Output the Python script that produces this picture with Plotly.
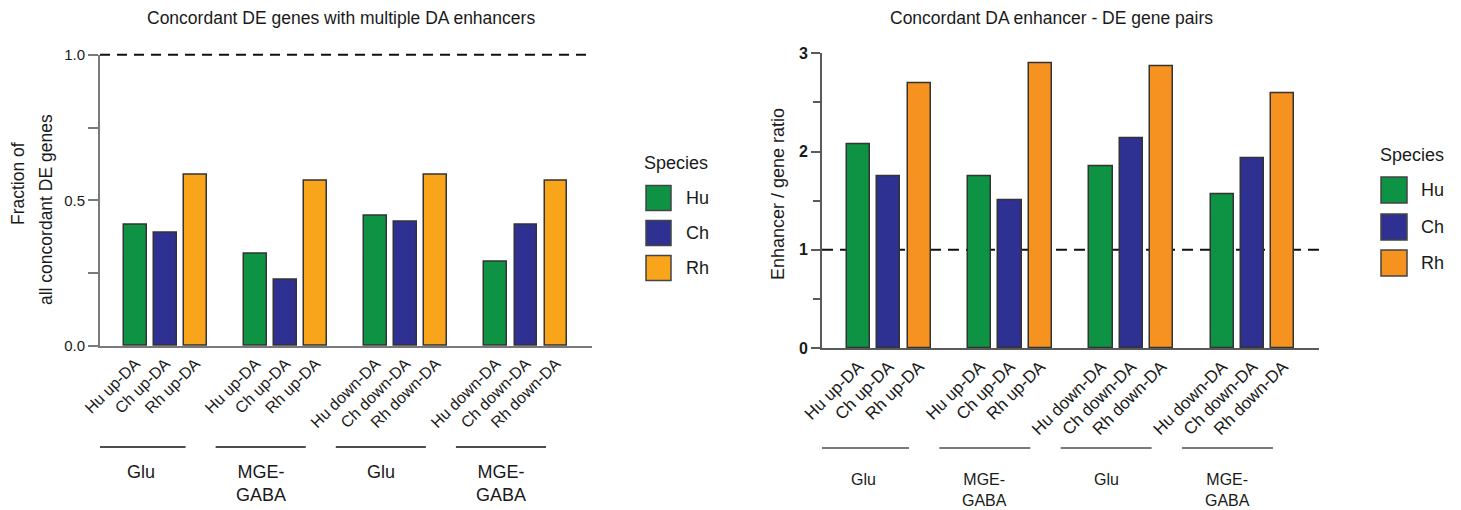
import plotly.graph_objects as go

# ---- data -------------------------------------------------------------
species = ["Hu", "Ch", "Rh"]
tick_labels = [
    "Hu up-DA", "Ch up-DA", "Rh up-DA",
    "Hu up-DA", "Ch up-DA", "Rh up-DA",
    "Hu down-DA", "Ch down-DA", "Rh down-DA",
    "Hu down-DA", "Ch down-DA", "Rh down-DA",
]
cell_groups = ["Glu", "MGE-<br>GABA", "Glu", "MGE-<br>GABA"]

# fraction of concordant DE genes with multiple DA enhancers
fraction_hu = [0.418, 0.318, 0.447, 0.289]
fraction_ch = [0.388, 0.229, 0.427, 0.418]
fraction_rh = [0.587, 0.566, 0.587, 0.566]

# enhancer / gene ratio of concordant pairs
ratio_hu = [2.07, 1.75, 1.85, 1.56]
ratio_ch = [1.745, 1.50, 2.13, 1.93]
ratio_rh = [2.69, 2.90, 2.87, 2.59]

# ---- styling ----------------------------------------------------------
FONT = "Liberation Sans, Arial, Helvetica, sans-serif"
W, H = 1461, 510
green = "#0E9345"
blue = "#2E3192"
orange_left = "#F8A51C"
orange_right = "#F6921F"
colors_left = [green, blue, orange_left]
colors_right = [green, blue, orange_right]
TEXT = "#1a1a1a"

GROUP_STEP = 4  # three bars plus one empty slot per group

LEFT_X = (100, 592)
LEFT_Y = (346, 54.7)
RIGHT_X = (822, 1319)
RIGHT_Y = (348, 53.3)


def px_x(p):
    return p / W


def px_y(p):
    return 1 - p / H


fig = go.Figure()

panels = [
    dict(xa="x", ya="y", vals=[fraction_hu, fraction_ch, fraction_rh], colors=colors_left),
    dict(xa="x2", ya="y2", vals=[ratio_hu, ratio_ch, ratio_rh], colors=colors_right),
]
for panel in panels:
    for j, (sp, vals, col) in enumerate(zip(species, panel["vals"], panel["colors"])):
        fig.add_trace(go.Bar(
            x=[g * GROUP_STEP + j for g in range(len(vals))],
            y=vals,
            name=sp,
            width=0.76,
            marker=dict(color=col, line=dict(color="#333333", width=1.5)),
            xaxis=panel["xa"], yaxis=panel["ya"],
            showlegend=False,
        ))

tick_positions = [g * GROUP_STEP + j for g in range(4) for j in range(3)]


def x_axis(domain, rng, anchor, size, linecolor):
    return dict(
        domain=domain, range=rng, anchor=anchor, automargin=False,
        showgrid=False, zeroline=False, showline=True, linewidth=2, linecolor=linecolor,
        tickmode="array", tickvals=tick_positions, ticktext=tick_labels,
        tickangle=-45, ticks="",
        tickfont=dict(family=FONT, size=size, color=TEXT),
    )


fig.update_layout(
    template="none",
    width=W, height=H,
    margin=dict(l=0, r=0, t=0, b=0, pad=0),
    paper_bgcolor="white", plot_bgcolor="white",
    font=dict(family=FONT, color=TEXT),
    bargap=0,
    xaxis=x_axis([px_x(LEFT_X[0]), px_x(LEFT_X[1])], [-1.18, 15.2], "y", 16, "#7a7a7a"),
    yaxis=dict(
        domain=[px_y(LEFT_Y[0]), px_y(LEFT_Y[1])], range=[0, 1.0], anchor="x", automargin=False,
        showgrid=False, zeroline=False, showline=True, linewidth=2, linecolor="#7a7a7a",
        tickmode="array", tickvals=[0, 0.5, 1.0], ticktext=["0.0", "0.5", "1.0"],
        ticks="outside", ticklen=10, tickwidth=2, tickcolor="#7a7a7a",
        minor=dict(tickvals=[0.25, 0.75], ticks="outside", ticklen=10,
                   tickwidth=2, tickcolor="#7a7a7a"),
        tickfont=dict(family=FONT, size=15, color=TEXT),
    ),
    xaxis2=x_axis([px_x(RIGHT_X[0]), px_x(RIGHT_X[1])], [-1.20, 15.19], "y2", 17, "#5a5a5a"),
    yaxis2=dict(
        domain=[px_y(RIGHT_Y[0]), px_y(RIGHT_Y[1])], range=[0, 3], anchor="x2", automargin=False,
        showgrid=False, zeroline=False, showline=True, linewidth=2, linecolor="#5a5a5a",
        tickmode="array", tickvals=[0, 1, 2, 3],
        ticktext=["<b>0</b>", "<b>1</b>", "<b>2</b>", "<b>3</b>"],
        ticks="outside", ticklen=9, tickwidth=2, tickcolor="#5a5a5a",
        minor=dict(tickvals=[0.5, 1.5, 2.5], ticks="outside", ticklen=7,
                   tickwidth=2, tickcolor="#5a5a5a"),
        tickfont=dict(family=FONT, size=16, color=TEXT),
    ),
)

shapes = []
annotations = []

# reference lines: the 1.0 line sits on the top edge of the left panel,
# so it is placed in paper space to avoid being clipped by the plot area
shapes.append(dict(type="line", xref="paper", yref="paper",
                   x0=px_x(LEFT_X[0]), x1=px_x(LEFT_X[1]),
                   y0=px_y(LEFT_Y[1]), y1=px_y(LEFT_Y[1]),
                   line=dict(color="#111111", width=2, dash="10px,7px"), layer="below"))
shapes.append(dict(type="line", xref="x2", yref="y2", x0=-1.20, x1=15.19, y0=1, y1=1,
                   line=dict(color="#111111", width=2, dash="11px,7px"), layer="below"))

# group underlines and cell-type labels
for g, label in enumerate(cell_groups):
    c0 = g * GROUP_STEP - 1.33
    c1 = g * GROUP_STEP + 1.67
    shapes.append(dict(type="line", xref="x", yref="paper", x0=c0, x1=c1,
                       y0=px_y(447), y1=px_y(447), line=dict(color="#111111", width=1.5)))
    shapes.append(dict(type="line", xref="x2", yref="paper", x0=c0, x1=c1,
                       y0=px_y(448), y1=px_y(448), line=dict(color="#7a7a7a", width=2)))
    annotations.append(dict(xref="x", yref="paper", x=(c0 + c1) / 2, y=px_y(460),
                            text=label, showarrow=False, xanchor="center", yanchor="top",
                            font=dict(family=FONT, size=18, color=TEXT)))
    annotations.append(dict(xref="x2", yref="paper", x=(c0 + c1) / 2, y=px_y(469),
                            text=label, showarrow=False, xanchor="center", yanchor="top",
                            font=dict(family=FONT, size=16, color=TEXT)))

# titles
annotations.append(dict(xref="paper", yref="paper", x=px_x(341), y=px_y(18),
                        text="Concordant DE genes with multiple DA enhancers", showarrow=False,
                        xanchor="center", yanchor="middle",
                        font=dict(family=FONT, size=17.5, color=TEXT)))
annotations.append(dict(xref="paper", yref="paper", x=px_x(1051), y=px_y(18),
                        text="Concordant DA enhancer - DE gene pairs", showarrow=False,
                        xanchor="center", yanchor="middle",
                        font=dict(family=FONT, size=17.5, color=TEXT)))

# y-axis titles
annotations.append(dict(xref="paper", yref="paper", x=px_x(18), y=px_y(184),
                        text="Fraction of", showarrow=False, textangle=-90,
                        xanchor="center", yanchor="middle",
                        font=dict(family=FONT, size=17.5, color=TEXT)))
annotations.append(dict(xref="paper", yref="paper", x=px_x(46), y=px_y(209),
                        text="all concordant DE genes", showarrow=False, textangle=-90,
                        xanchor="center", yanchor="middle",
                        font=dict(family=FONT, size=17.5, color=TEXT)))
annotations.append(dict(xref="paper", yref="paper", x=px_x(778), y=px_y(194),
                        text="Enhancer / gene ratio", showarrow=False, textangle=-90,
                        xanchor="center", yanchor="middle",
                        font=dict(family=FONT, size=18, color=TEXT)))

# species keys
legends = [
    dict(title_x=676, title_y=163, box_x=646, box_w=25, ys=[198, 233, 268], text_x=684,
         colors=colors_left),
    dict(title_x=1412, title_y=155, box_x=1381, box_w=26, ys=[190, 227, 263], text_x=1419,
         colors=colors_right),
]
for lg in legends:
    annotations.append(dict(xref="paper", yref="paper", x=px_x(lg["title_x"]), y=px_y(lg["title_y"]),
                            text="Species", showarrow=False, xanchor="center", yanchor="middle",
                            font=dict(family=FONT, size=18, color=TEXT)))
    for sp, col, yc in zip(species, lg["colors"], lg["ys"]):
        half = lg["box_w"] / 2
        shapes.append(dict(type="rect", xref="paper", yref="paper",
                           x0=px_x(lg["box_x"]), x1=px_x(lg["box_x"] + lg["box_w"]),
                           y0=px_y(yc + half), y1=px_y(yc - half),
                           fillcolor=col, line=dict(color="#444444", width=1.5)))
        annotations.append(dict(xref="paper", yref="paper", x=px_x(lg["text_x"]), y=px_y(yc),
                                text=sp, showarrow=False, xanchor="left", yanchor="middle",
                                font=dict(family=FONT, size=18, color=TEXT)))

fig.update_layout(shapes=shapes, annotations=annotations)

fig.write_html("out.html")
